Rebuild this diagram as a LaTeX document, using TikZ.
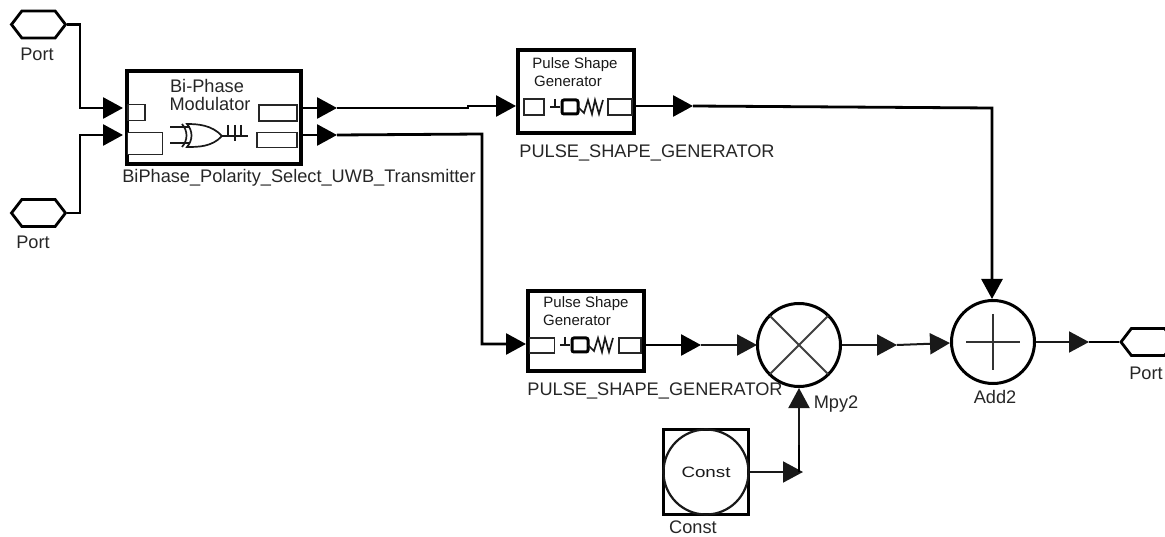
\documentclass[tikz,border=0pt]{standalone}
\usepackage{fontspec}
\setmainfont{Liberation Sans}
\usetikzlibrary{arrows.meta,shapes.symbols,shapes.geometric}
\tikzset{
  wire/.style={draw=black,line width=2.8pt},
  thin wire/.style={draw=black!90,line width=2pt},
  tip/.style={-{Triangle[length=20pt,width=21pt,inset=0pt]},shorten >=0pt},
  porthex/.style={shape=signal,signal to=east and west,signal pointer angle=105,draw=black,line width=2.8pt,fill=white,minimum width=54pt,minimum height=27pt,inner sep=0pt},
  blockbox/.style={draw=black,line width=4pt,fill=white,inner sep=0pt},
  pin/.style={draw=black!85,line width=1.8pt,fill=white,inner sep=0pt},
  ring/.style={circle,draw=black,line width=3pt,fill=white,minimum size=83pt,inner sep=0pt},
  lab/.style={font=\fontsize{18.2pt}{20pt}\selectfont,text=black!85,inner sep=0pt,anchor=center},
  tiny/.style={font=\fontsize{15pt}{16pt}\selectfont,text=black!90,inner sep=0pt,anchor=center},
  glyph/.style={draw=black!90,line width=1.7pt},
}
\begin{document}
\begin{tikzpicture}[x=1pt,y=-1pt]
\useasboundingbox (0,0) rectangle (1165,537);
% blocks
\node[blockbox,minimum width=174pt,minimum height=93pt] (mod) at (214,117.5) {};
\node[blockbox,minimum width=116pt,minimum height=83pt] (psa) at (576,91.5) {};
\node[blockbox,minimum width=116pt,minimum height=80pt] (psb) at (586,331) {};
\node[ring] (mpy) at (799,345) {};
\node[ring] (add) at (993,342) {};
\node[draw=black,line width=2.8pt,fill=white,minimum size=85pt,inner sep=0pt] (cbox) at (706,472) {};
\node[circle,draw=black!90,line width=2.2pt,minimum size=85pt,inner sep=0pt] (cring) at (706,472) {};
% ports
\node[porthex] (p1) at (38.5,24.5) {};
\node[porthex] (p2) at (38.5,213) {};
\node[porthex] (p3) at (1148,342) {};
% pins
\node[pin,minimum width=17pt,minimum height=16pt] (m1) at (136.5,112.5) {};
\node[pin,minimum width=35pt,minimum height=22pt] (m2) at (145,143.5) {};
\node[pin,minimum width=38pt,minimum height=16pt] (m3) at (278,113) {};
\node[pin,minimum width=40pt,minimum height=15pt] (m4) at (277,140) {};
\node[pin,minimum width=20pt,minimum height=16pt] (a1) at (534,107) {};
\node[pin,minimum width=24pt,minimum height=16pt] (a2) at (620,107) {};
\node[pin,minimum width=25pt,minimum height=15pt] (b1) at (542,345.5) {};
\node[pin,minimum width=22pt,minimum height=15pt] (b2) at (630,345.5) {};
% wires
\coordinate (t1) at (123,108);
\coordinate (t2) at (123,135);
\coordinate (o1) at (337,108);
\coordinate (o2) at (337,135);
\coordinate (i1) at (516,106);
\coordinate (o3) at (693,106);
\coordinate (i3) at (526,344);
\coordinate (o4) at (701,345);
\coordinate (o5) at (897,345);
\coordinate (o6) at (1089,342);
\coordinate (c1) at (803,472);
\coordinate (j1) at (799,472);
\draw[wire,tip] (p1.east) -- (80,24.5) -- (80,108) -- (t1);
\draw[wire,tip] (p2.east) -- (80,213) -- (80,135) -- (t2);
\draw[wire,tip] (302,108) -- (o1);
\draw[wire,tip] (302,135) -- (o2);
\draw[wire,tip] (o1) -- (468,108) -- (468,106) -- (i1);
\draw[wire,tip] (o2) -- (482,134) -- (482,344) -- (i3);
\draw[wire,tip] (635,106) -- (o3);
\draw[wire,tip] (o3) -- (992,108) -- (992,299);
\draw[wire,tip] (645,345) -- (o4);
\draw[thin wire,tip] (o4) -- (757,345);
\draw[thin wire,tip] (mpy.east) -- (o5);
\draw[thin wire,tip] (o5) -- (950,343);
\draw[thin wire,tip] (add.east) -- (o6);
\draw[wire] (o6) -- (p3.west);
\draw[thin wire,tip] (cbox.east) -- (c1);
\draw[wire] (j1) -- (799,440);
\draw[thin wire,tip] (799,445) -- (mpy.south);
% symbols inside rings
\draw[thin wire,draw=black!75] (770,316) -- (828,374);
\draw[thin wire,draw=black!75] (770,374) -- (828,316);
\draw[thin wire,draw=black!80] (966,342) -- (1020,342);
\draw[thin wire,draw=black!80] (993,314) -- (993,370);
% gate glyph
\draw[glyph,fill=white] (187,124) .. controls (198,124) and (212,125) .. (222,136) .. controls (212,147) and (198,147) .. (187,147) .. controls (193,140) and (193,131) .. (187,124) -- cycle;
\draw[glyph] (182,124) .. controls (188,131) and (188,140) .. (182,147);
\draw[glyph] (170,127) -- (190,127) (170,143) -- (190,143);
\draw[glyph] (222,136) -- (248,136) (228,125) -- (228,136) (235,125) -- (235,141) (241,125) -- (241,136);
% pulse glyphs
\foreach \dx/\dy in {0/0,10/238}{
  \draw[glyph] (550+\dx,107+\dy) -- (560+\dx,107+\dy) (555+\dx,99+\dy) -- (555+\dx,107+\dy);
  \draw[black,line width=3pt,rounded corners=2pt] (562+\dx,100+\dy) rectangle (578+\dx,114+\dy);
  \draw[glyph] (578+\dx,107+\dy) -- (584+\dx,113+\dy) -- (588+\dx,100+\dy) -- (592+\dx,114+\dy) -- (595+\dx,100+\dy) -- (599+\dx,114+\dy) -- (603+\dx,100+\dy);
}
% text
\node[lab] (l1) at (207,86) {Bi-Phase};
\node[lab] (l2) at (210,104) {Modulator};
\node[lab] (l3) at (299,178) {BiPhase\_Polarity\_Select\_UWB\_Transmitter};
\node[tiny] (l4) at (575,65) {Pulse Shape};
\node[tiny] (l5) at (568,81) {Generator};
\node[tiny] (l6) at (586,304) {Pulse Shape};
\node[tiny] (l7) at (577,320) {Generator};
\node[lab] (l8) at (647,153) {PULSE\_SHAPE\_GENERATOR};
\node[lab] (l9) at (655,391) {PULSE\_SHAPE\_GENERATOR};
\node[lab] (l10) at (836,404) {Mpy2};
\node[lab] (l11) at (995,397) {Add2};
\node[lab] (l12) at (693,527.5) {Const};
\node[lab] (l13) at (37,54) {Port};
\node[lab] (l14) at (33,242) {Port};
\node[lab] (l15) at (1146,373) {Port};
\node[tiny,xscale=1.25] (l16) at (706,472) {Const};
\end{tikzpicture}
\end{document}
